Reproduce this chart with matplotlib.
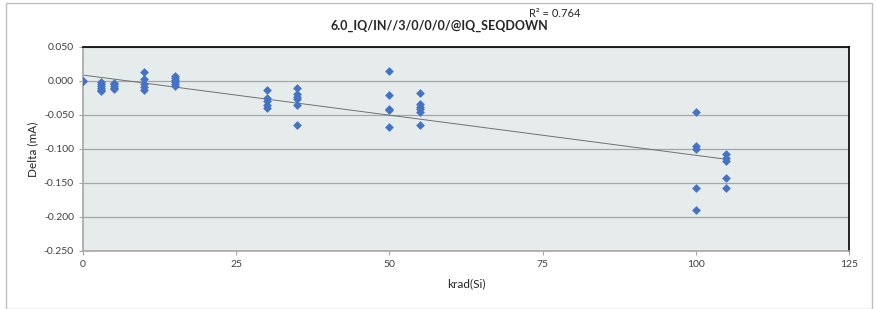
import matplotlib.pyplot as plt
import numpy as np
from matplotlib.patches import Rectangle

# ----------------------------------
# Data
# ----------------------------------
dose_0 = [0.000, 0.000]
dose_3 = [-0.001, -0.004, -0.007, -0.010, -0.013, -0.015]
dose_5 = [-0.003, -0.005, -0.008, -0.010, -0.012]
dose_10 = [0.013, 0.003, -0.004, -0.009, -0.014]
dose_15 = [0.007, 0.004, 0.001, -0.002, -0.005, -0.007]
dose_30 = [-0.013, -0.025, -0.030, -0.036, -0.040]
dose_35 = [-0.010, -0.019, -0.023, -0.027, -0.035, -0.065]
dose_50 = [0.015, -0.021, -0.041, -0.043, -0.068]
dose_55 = [-0.017, -0.034, -0.038, -0.041, -0.045, -0.065]
dose_100 = [-0.045, -0.095, -0.100, -0.157, -0.190]
dose_105 = [-0.108, -0.113, -0.118, -0.143, -0.157]

doses = [0, 3, 5, 10, 15, 30, 35, 50, 55, 100, 105]
deltas = [dose_0, dose_3, dose_5, dose_10, dose_15, dose_30,
          dose_35, dose_50, dose_55, dose_100, dose_105]

title = "6.0_IQ/IN//3/0/0/0/@IQ_SEQDOWN"
r2_label = "R\u00b2 = 0.764"
x_ticks = [0, 25, 50, 75, 100, 125]
y_ticks = [0.050, 0.000, -0.050, -0.100, -0.150, -0.200, -0.250]

# ----------------------------------
# Plot
# ----------------------------------
plt.rcParams['font.family'] = ['Lato', 'DejaVu Sans']

x = np.concatenate([[d] * len(v) for d, v in zip(doses, deltas)])
y = np.concatenate(deltas)

fig = plt.figure(figsize=(8.76, 3.09), dpi=100)
ax = fig.add_axes([0.0947, 0.188, 0.8744, 0.660])

# outer chart frame
fig.patches.append(Rectangle((0.007, 0.0), 0.988, 0.99, transform=fig.transFigure,
                             fill=False, edgecolor='#BFBFBF', linewidth=1.0))

ax.set_facecolor('#E6ECEC')
ax.scatter(x, y, marker='D', s=20, color='#4472C4', zorder=3, linewidths=0)

# linear trend line
slope, intercept = np.polyfit(x, y, 1)
xf = np.array([0, max(doses)])
ax.plot(xf, slope * xf + intercept, color='#707070', linewidth=0.7, zorder=2)

ax.set_xlim(0, 125)
ax.set_ylim(-0.250, 0.050)
ax.set_xticks(x_ticks)
ax.set_yticks(y_ticks)
ax.set_yticklabels([f"{v:.3f}" for v in y_ticks])
ax.grid(axis='y', color='#A6A6A6', linewidth=0.9)
ax.set_axisbelow(True)

ax.tick_params(labelsize=7.5, colors='#404040', length=3, width=0.8)
ax.tick_params(axis='both', color='#A6A6A6')
for side in ['left', 'bottom']:
    ax.spines[side].set_color('#A6A6A6')
    ax.spines[side].set_linewidth(1.2)
for side in ['top', 'right']:
    ax.spines[side].set_color('black')
    ax.spines[side].set_linewidth(1.2)

ax.set_xlabel("krad(Si)", fontsize=8.5, color='#262626', labelpad=7)
ax.set_ylabel("Delta (mA)", fontsize=8.5, color='#262626', labelpad=4)
fig.text(0.502, 0.915, title, ha='center', va='center', fontsize=9,
         fontweight='bold', color='#262626')
fig.text(0.604, 0.955, r2_label, ha='left', va='center', fontsize=8,
         color='#262626')

plt.savefig('out.png', dpi=100)
